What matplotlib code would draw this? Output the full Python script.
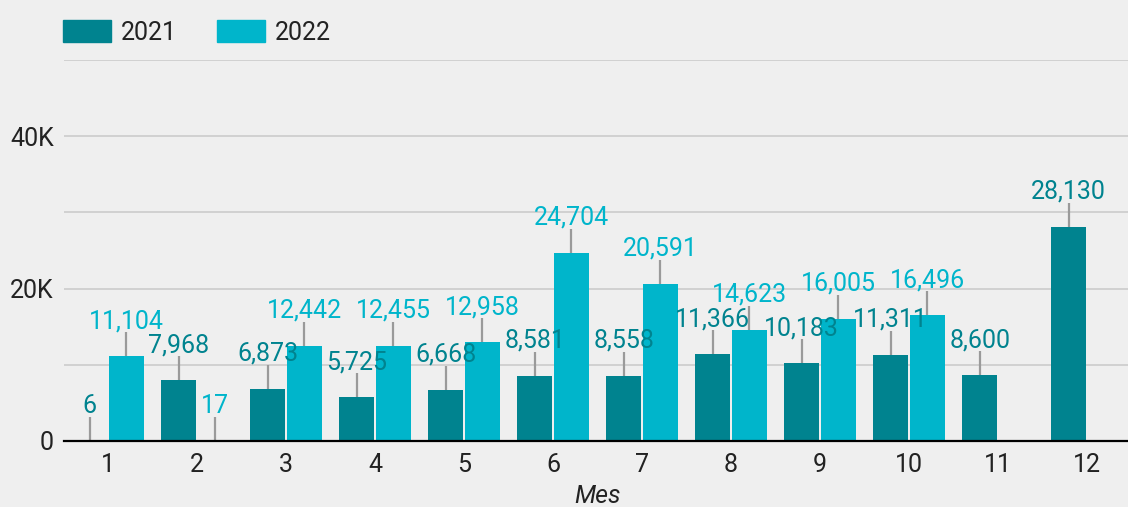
import numpy as np
import matplotlib.pyplot as plt
from matplotlib.ticker import FuncFormatter, MultipleLocator

# datos
meses = ['1', '2', '3', '4', '5', '6', '7', '8', '9', '10', '11', '12']
v2021 = [6, 7968, 6873, 5725, 6668, 8581, 8558, 11366, 10183, 11311, 8600, 28130]
v2022 = [11104, 17, 12442, 12455, 12958, 24704, 20591, 14623, 16005, 16496, None, None]

c2021 = '#00838f'
c2022 = '#00b5cb'
fondo = '#efefef'

plt.rcParams['font.family'] = ['Roboto', 'DejaVu Sans']

fig = plt.figure(figsize=(11.28, 5.07), dpi=100, facecolor=fondo)
ax = fig.add_axes([63.5 / 1128, 66 / 507, 1068 / 1128, 381 / 507])
ax.set_facecolor(fondo)

x = np.arange(len(meses))
w = 0.39
off = 0.205

# altura de la línea guía y del texto en unidades de datos (aprox 24 px / 28 px)
linea = 3150
texto = 3700

for serie, color, dx in [(v2021, c2021, -off), (v2022, c2022, off)]:
    for i, v in enumerate(serie):
        if v is None:
            continue
        ax.bar(x[i] + dx, v, width=w, color=color, zorder=2)
        ax.vlines(x[i] + dx, v, v + linea, color='#9a9a9a', linewidth=1.6, zorder=3)
        ax.text(x[i] + dx, v + texto, f'{v:,}', color=color, fontsize=18,
                ha='center', va='baseline', zorder=4)

ax.set_xlim(-0.5, 11.5)
ax.set_ylim(0, 50000)
ax.set_xticks(x)
ax.set_xticklabels(meses)
ax.yaxis.set_major_locator(MultipleLocator(20000))
ax.yaxis.set_minor_locator(MultipleLocator(10000))
ax.yaxis.set_major_formatter(FuncFormatter(lambda v, p: '0' if v == 0 else f'{int(v / 1000)}K'))
ax.tick_params(axis='both', which='both', length=0, labelsize=18, colors='#222222')
ax.tick_params(axis='y', pad=7)
ax.tick_params(axis='x', pad=9)
ax.grid(axis='y', which='both', color='#cccccc', linewidth=1.2, zorder=0)
ax.set_axisbelow(True)
for s in ['top', 'right', 'left']:
    ax.spines[s].set_visible(False)
ax.spines['bottom'].set_color('black')
ax.spines['bottom'].set_linewidth(1.6)
ax.spines['bottom'].set_zorder(5)

ax.set_xlabel('Mes', fontsize=18, fontstyle='italic', color='#222222', labelpad=5)

h1 = plt.Rectangle((0, 0), 1, 1, color=c2021)
h2 = plt.Rectangle((0, 0), 1, 1, color=c2022)
fig.legend([h1, h2], ['2021', '2022'], loc='upper left', bbox_to_anchor=(40 / 1128, 1 + 2 / 507),
           ncol=2, frameon=False, fontsize=18, handlelength=1.92, handleheight=0.96,
           handletextpad=0.4, columnspacing=1.6, labelcolor='#222222')

fig.savefig('out.png', dpi=100, facecolor=fondo)
